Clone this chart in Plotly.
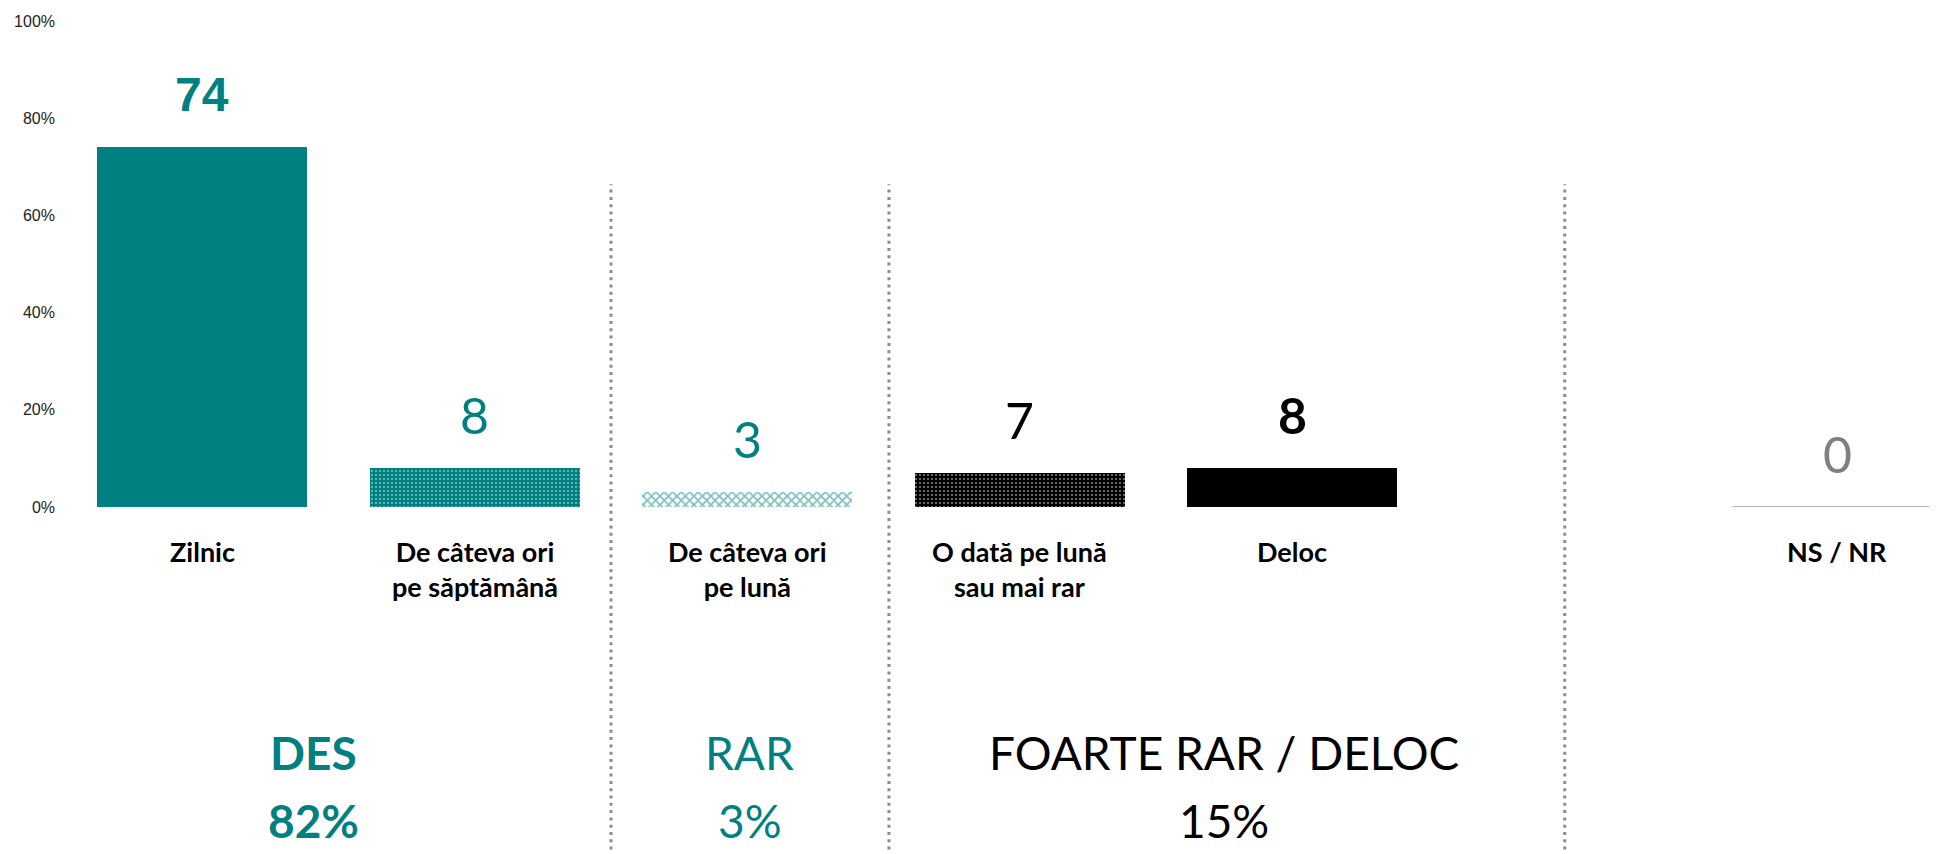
import plotly.graph_objects as go

# ---- data ----
categories = ["Zilnic", "De câteva ori<br>pe săptămână", "De câteva ori<br>pe lună",
              "O dată pe lună<br>sau mai rar", "Deloc", "", "NS / NR"]
values = [74, 8, 3, 7, 8, None, 0]
value_labels = ["74", "8", "3", "7", "8", "", "0"]
y_ticks = [0, 20, 40, 60, 80, 100]
y_tick_labels = ["0%", "20%", "40%", "60%", "80%", "100%"]
group_names = ["DES", "RAR", "FOARTE RAR / DELOC"]
group_totals = ["82%", "3%", "15%"]

# ---- styles ----
TEAL = "#008080"
BLACK = "#000000"
GRAY = "#808080"
x_pos = list(range(len(categories)))
bar_width = 0.77

bar_idx = [0, 1, 2, 3, 4]
pat_shape = ["", ".", "x", ".", ""]
pat_fg = [TEAL, "#ffffff", TEAL, "#ffffff", BLACK]
pat_bg = [TEAL, TEAL, "#ffffff", BLACK, BLACK]
pat_size = [6, 4, 6, 4, 6]
pat_solid = [0.3, 0.22, 0.5, 0.22, 0.3]

label_colors = [TEAL, TEAL, TEAL, BLACK, BLACK, BLACK, GRAY]
label_bold = [True, False, False, False, True, False, False]
label_family = ["Liberation Sans", "Lato", "Lato", "Lato", "Lato", "Lato", "Lato"]
label_size = [48, 50, 50, 50, 50, 50, 50]

group_x = [0.41, 2.01, 3.75]
group_colors = [TEAL, TEAL, BLACK]
group_bold = [True, False, False]
dividers = [1.5, 2.52, 5.0]

fig = go.Figure()
for k, i in enumerate(bar_idx):
    marker = dict(color=pat_bg[k], line=dict(width=0))
    if pat_shape[k]:
        marker["pattern"] = dict(shape=pat_shape[k], fgcolor=pat_fg[k], bgcolor=pat_bg[k],
                                 size=pat_size[k], solidity=pat_solid[k], fillmode="overlay")
    fig.add_trace(go.Bar(
        x=[x_pos[i]], y=[values[i]], width=bar_width, marker=marker,
        hoverinfo="skip", showlegend=False,
    ))

# zero-height NS/NR bar drawn as its outline
ns = 6
fig.add_trace(go.Scatter(
    x=[x_pos[ns] - bar_width / 2, x_pos[ns] + bar_width / 2],
    y=[values[ns], values[ns]],
    mode="lines", line=dict(color="#999999", width=1.5),
    hoverinfo="skip", showlegend=False, cliponaxis=True,
))

annotations = []
for i, (v, lab) in enumerate(zip(values, value_labels)):
    if v is None:
        continue
    txt = f"<b>{lab}</b>" if label_bold[i] else lab
    annotations.append(dict(
        x=x_pos[i], y=v, xref="x", yref="y", text=txt, showarrow=False,
        yanchor="middle", yshift=53,
        font=dict(family=label_family[i], size=label_size[i], color=label_colors[i]),
    ))
for i, cat in enumerate(categories):
    if not cat:
        continue
    annotations.append(dict(
        x=x_pos[i], y=0, xref="x", yref="y", text=f"<b>{cat}</b>", showarrow=False,
        yanchor="top", yshift=-26, align="center",
        font=dict(family="Lato", size=27, color="#000000"),
    ))
for gx, name, tot, col, b in zip(group_x, group_names, group_totals, group_colors, group_bold):
    t1 = f"<b>{name}</b>" if b else name
    t2 = f"<b>{tot}</b>" if b else tot
    annotations.append(dict(x=gx, y=-0.506, xref="x", yref="paper", text=t1, showarrow=False,
                            yanchor="middle", font=dict(family="Lato", size=46, color=col)))
    annotations.append(dict(x=gx, y=-0.646, xref="x", yref="paper", text=t2, showarrow=False,
                            yanchor="middle", font=dict(family="Lato", size=46, color=col)))

shapes = [dict(type="line", xref="x", yref="paper", x0=d, x1=d, y0=-0.75, y1=0.664,
               line=dict(color="#8c8c8c", width=3, dash="3px,4.3px")) for d in dividers]

W, H = 1937, 854
left = 58
top = 13
plot_h = 486
px_per_unit = 272.5
x_max = -0.5 + (W - left) / px_per_unit

fig.update_layout(
    width=W, height=H,
    margin=dict(l=left, r=0, t=top, b=H - top - plot_h),
    plot_bgcolor="#ffffff", paper_bgcolor="#ffffff",
    bargap=0, barmode="overlay",
    xaxis=dict(range=[-0.5, x_max], showticklabels=False, showgrid=False,
               zeroline=False, showline=False, ticks=""),
    yaxis=dict(range=[0, 100], tickvals=y_ticks, ticktext=y_tick_labels,
               showgrid=False, zeroline=False, showline=False, ticks="",
               ticklabelstandoff=10,
               tickfont=dict(family="Liberation Sans", size=16, color="#222222")),
    annotations=annotations,
    shapes=shapes,
)

fig.write_html("out.html")
